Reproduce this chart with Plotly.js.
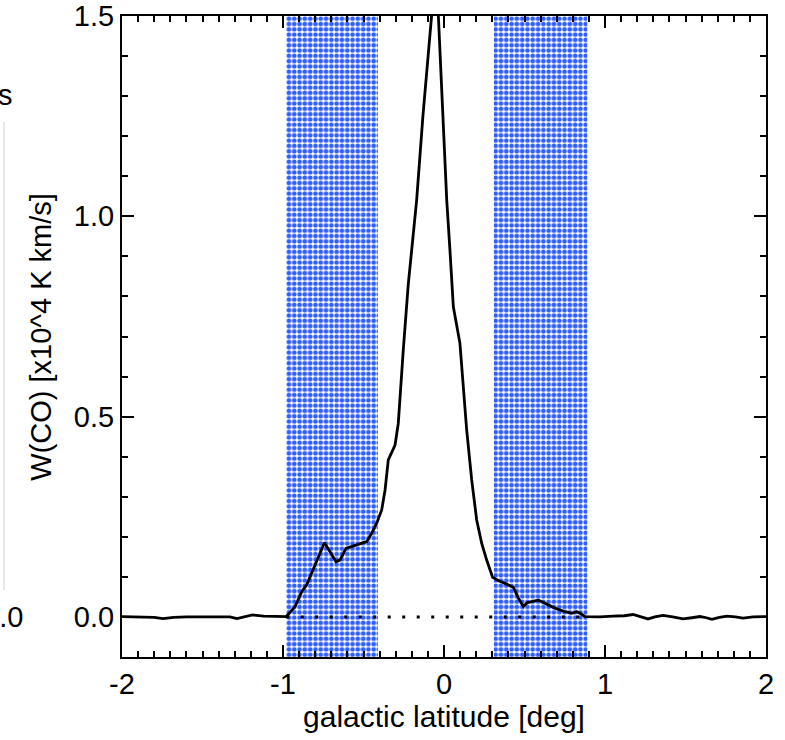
<!DOCTYPE html>
<html>
<head>
<meta charset="utf-8">
<script src="https://cdn.plot.ly/plotly-3.0.1.min.js"></script>
<style>html,body{margin:0;padding:0;background:#fff;}#chart{width:785px;height:740px;}</style>
</head>
<body>
<div id="chart"></div>
<script>
// galactic latitude [deg]
const latitude = [
  -2.0, -1.9, -1.8, -1.745, -1.68, -1.6, -1.5, -1.4, -1.33, -1.286, -1.24, -1.19, -1.12, -1.05, -0.98,
  -0.955, -0.925, -0.884, -0.853, -0.81, -0.78, -0.743, -0.708, -0.671, -0.646, -0.609, -0.542, -0.48,
  -0.449, -0.418, -0.387, -0.366, -0.346, -0.304, -0.284, -0.263, -0.253, -0.222, -0.191, -0.17, -0.131,
  -0.077, -0.047, -0.035, 0.017, 0.037, 0.058, 0.099, 0.141, 0.172, 0.203, 0.234, 0.265, 0.302, 0.337,
  0.389, 0.431, 0.462, 0.493, 0.518, 0.586, 0.638, 0.689, 0.752, 0.793, 0.824, 0.845, 0.876, 0.969,
  1.05, 1.12, 1.174, 1.22, 1.267, 1.31, 1.36, 1.42, 1.485, 1.54, 1.59, 1.63, 1.664, 1.71, 1.758, 1.81,
  1.857, 1.92, 1.98, 2.0
];
// W(CO) [x10^4 K km/s]
const wco = [
  0.001, 0.0, -0.001, -0.004, -0.001, 0.0, 0.0, 0.001, 0.0, -0.004, 0.0, 0.005, 0.002, 0.001, 0.001,
  0.012, 0.026, 0.063, 0.08, 0.121, 0.15, 0.185, 0.163, 0.138, 0.142, 0.171, 0.18, 0.188,
  0.209, 0.234, 0.267, 0.317, 0.392, 0.429, 0.483, 0.591, 0.666, 0.83, 0.957, 1.04, 1.25,
  1.5, 1.64, 1.5, 1.04, 0.915, 0.774, 0.683, 0.466, 0.342, 0.242, 0.184, 0.142, 0.099, 0.091,
  0.082, 0.074, 0.047, 0.026, 0.036, 0.042, 0.032, 0.022, 0.013, 0.009, 0.013, 0.009, 0.001, 0.0,
  0.002, 0.003, 0.006, 0.001, -0.005, 0.0, 0.004, 0.0, -0.005, -0.002, 0.001, -0.002, -0.006, -0.001, 0.002, 0.0,
  -0.003, 0.0, 0.001, 0.001
];
// shaded latitude ranges
const regionStart = [-0.98, 0.31];
const regionEnd = [-0.41, 0.89];
const regionBottom = -0.12;
const regionTop = 1.53;
const xTicks = [-2, -1, 0, 1, 2];
const xTickText = ['-2', '-1', '0', '1', '2'];
const yTicks = [0.0, 0.5, 1.0, 1.5];
const yTickText = ['0.0', '0.5', '1.0', '1.5'];

const FONT = 'Liberation Sans, Arial, Helvetica, sans-serif';
const traces = [];
for (let i = 0; i < regionStart.length; i++) {
  traces.push({
    type: 'scatter', mode: 'lines',
    x: [regionStart[i], regionStart[i], regionEnd[i], regionEnd[i], regionStart[i]],
    y: [regionBottom, regionTop, regionTop, regionBottom, regionBottom],
    fill: 'toself', fillcolor: 'rgba(0,0,0,0)',
    fillpattern: {shape: '.', fgcolor: '#2f5eff', bgcolor: 'rgba(255,255,255,0)', size: 5.3, solidity: 0.6},
    line: {width: 0, color: 'rgba(0,0,0,0)'},
    hoverinfo: 'skip', showlegend: false
  });
}
traces.push({
  type: 'scatter', mode: 'lines',
  x: [regionStart[0], regionEnd[regionEnd.length - 1]], y: [0, 0],
  line: {color: 'black', width: 3, dash: '3px,11.5px'},
  showlegend: false
});
traces.push({
  type: 'scatter', mode: 'lines', x: latitude, y: wco,
  line: {color: 'black', width: 2.8},
  showlegend: false
});

const axisCommon = {
  showline: true, linewidth: 2, linecolor: 'black', mirror: 'ticks',
  ticks: 'inside', ticklen: 12, tickwidth: 2, tickcolor: 'black',
  showgrid: false, zeroline: false,
  tickfont: {family: FONT, size: 29, color: 'black'},
  minor: {ticks: 'inside', ticklen: 6, tickwidth: 2, tickcolor: 'black', dtick: 0.1, showgrid: false}
};

const layout = {
  width: 785, height: 740,
  margin: {l: 122, r: 19, t: 16, b: 83},
  paper_bgcolor: 'white', plot_bgcolor: 'white',
  font: {family: FONT, color: 'black'},
  showlegend: false,
  xaxis: Object.assign({}, axisCommon, {
    range: [-2, 2], tickmode: 'array', tickvals: xTicks, ticktext: xTickText,
    title: {text: 'galactic latitude [deg]', font: {family: FONT, size: 30, color: 'black'}, standoff: 2}
  }),
  yaxis: Object.assign({}, axisCommon, {
    range: [-0.1, 1.5], tickmode: 'array', tickvals: yTicks, ticktext: yTickText
  }),
  annotations: [
    {text: 'W(CO) [x10^4 K km/s]', xref: 'paper', yref: 'paper', x: -0.127, y: 0.5,
     xanchor: 'center', yanchor: 'middle', textangle: -90, showarrow: false,
     font: {family: FONT, size: 29, color: 'black'}},
    {text: 's', xref: 'paper', yref: 'paper', x: (15 - 122) / 644, y: (657 - 95) / 641,
     xanchor: 'right', yanchor: 'middle', showarrow: false,
     font: {family: FONT, size: 29, color: 'black'}},
    {text: '0.0', xref: 'paper', yref: 'paper', x: (25 - 122) / 644, y: (657 - 617) / 641,
     xanchor: 'right', yanchor: 'middle', showarrow: false,
     font: {family: FONT, size: 29, color: 'black'}}
  ],
  shapes: [
    {type: 'line', xref: 'paper', yref: 'paper', x0: (4 - 122) / 644, x1: (4 - 122) / 644,
     y0: (657 - 590) / 641, y1: (657 - 122) / 641, line: {color: '#d0d0d0', width: 1}}
  ]
};

Plotly.newPlot('chart', traces, layout, {displayModeBar: false, staticPlot: true});
</script>
</body>
</html>
